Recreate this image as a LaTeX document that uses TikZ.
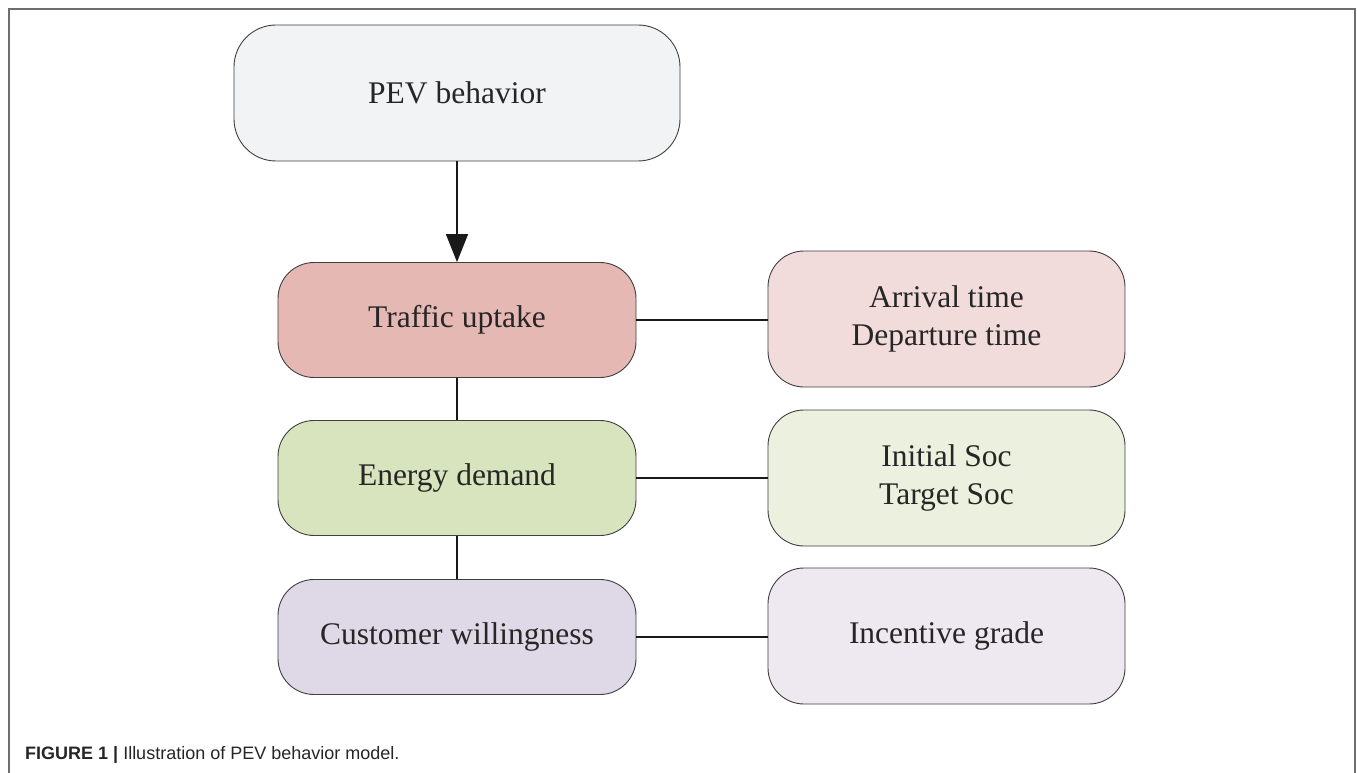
\documentclass[tikz,border=0pt]{standalone}
\usepackage{fontspec}
\setmainfont{Liberation Serif}
\newfontfamily\capfont{Liberation Sans}
\usetikzlibrary{arrows.meta}
\definecolor{pevfill}{HTML}{F2F3F5}
\definecolor{trafill}{HTML}{E5B8B4}
\definecolor{enefill}{HTML}{D8E4BE}
\definecolor{cusfill}{HTML}{DFD8E6}
\definecolor{arrfill}{HTML}{F2DCDB}
\definecolor{inifill}{HTML}{EBF1DE}
\definecolor{incfill}{HTML}{EEE8F0}
\definecolor{edge}{HTML}{3F3F3F}
\definecolor{framec}{HTML}{6E6E6E}
\tikzset{
  box/.style={draw=edge, line width=0.9pt, rounded corners=36pt, align=center,
    font=\fontsize{31.5}{38}\selectfont, text=black!85, inner sep=0pt},
  bigbox/.style={box, minimum width=446pt, minimum height=136pt, rounded corners=42pt},
  leftbox/.style={box, minimum width=358pt, minimum height=115pt},
  rightbox/.style={box, minimum width=357pt, minimum height=136pt},
  link/.style={line width=1.6pt, draw=black!90},
}
\begin{document}
\begin{tikzpicture}[x=1pt,y=-1pt]
\useasboundingbox (0,0) rectangle (1357,773);
\draw[framec, line width=2pt] (9,773) -- (9,9) -- (1355,9) -- (1355,773);
\node[bigbox, fill=pevfill] (pev) at (457,93) {PEV behavior};
\node[leftbox, fill=trafill] (tra) at (457,320) {Traffic uptake};
\node[leftbox, fill=enefill] (ene) at (457,478) {Energy demand};
\node[leftbox, fill=cusfill] (cus) at (457,637) {Customer willingness};
\node[rightbox, fill=arrfill] (arr) at (946.5,319) {Arrival time\\Departure time};
\node[rightbox, fill=inifill] (ini) at (946.5,478) {Initial Soc\\Target Soc};
\node[rightbox, fill=incfill] (inc) at (946.5,636) {Incentive grade};
\draw[link, -{Triangle[length=28pt,width=22pt]}] (pev) -- (tra);
\draw[link] (tra) -- (ene);
\draw[link] (ene) -- (cus);
\draw[link] (tra.east) -- (arr.west |- tra.east);
\draw[link] (ene.east) -- (ini.west |- ene.east);
\draw[link] (cus.east) -- (inc.west |- cus.east);
\node[anchor=base west, inner sep=0pt, font=\capfont\fontsize{18}{22}\selectfont, text=black!85] (cap) at (25,759)
  {\textbf{FIGURE 1 |} Illustration of PEV behavior model.};
\end{tikzpicture}
\end{document}
